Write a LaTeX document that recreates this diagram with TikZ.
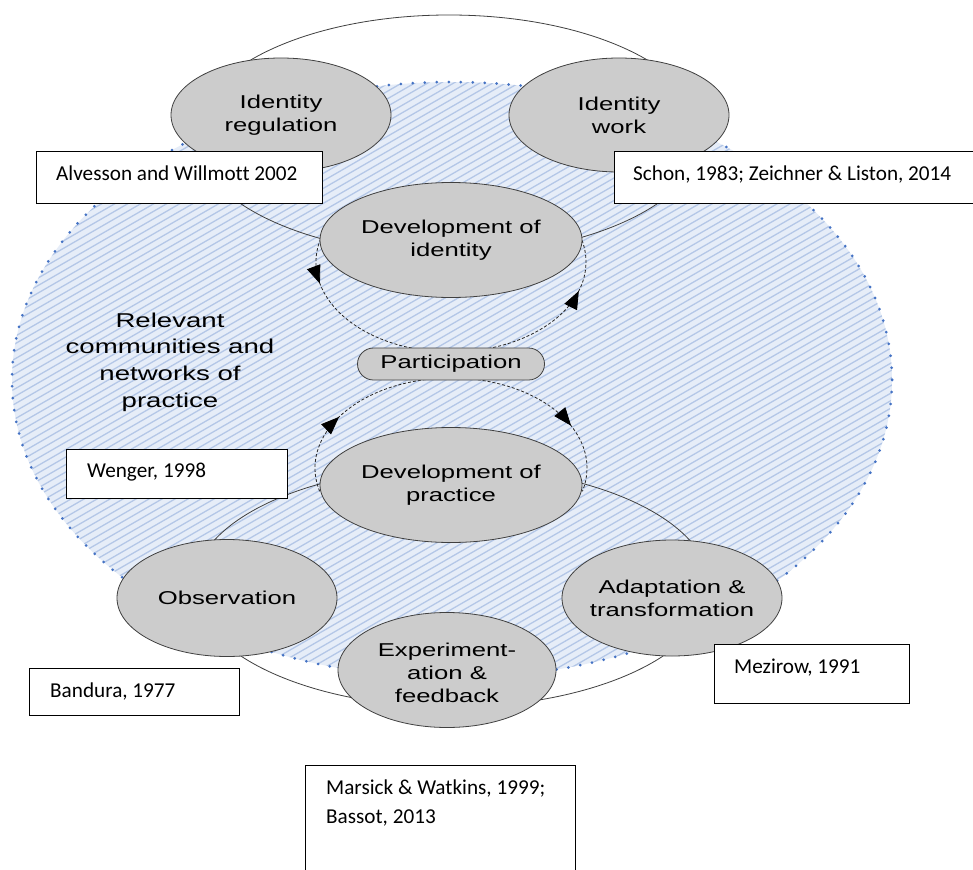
\documentclass[tikz,border=0pt]{standalone}
\usepackage{fontspec}
\setmainfont{Carlito}[Ligatures=CommonOff]
\newfontfamily\smartfont[FakeStretch=1.38]{Liberation Sans}
\usetikzlibrary{decorations.markings,arrows.meta,shapes.geometric}
\definecolor{hatchbg}{RGB}{230,237,248}
\definecolor{hatchln}{RGB}{180,199,231}
\definecolor{dotblue}{RGB}{68,114,196}
\definecolor{blobgray}{RGB}{204,204,204}
\definecolor{edgegray}{RGB}{64,64,64}
\tikzset{
  blob/.style={ellipse, fill=blobgray, draw=edgegray, line width=0.8pt, inner sep=0pt},
  pill/.style={rectangle, rounded corners=16pt, fill=blobgray, draw=edgegray, line width=0.8pt, inner sep=0pt},
  smart/.style={font=\smartfont\fontsize{18.6}{23}\selectfont, align=center, inner sep=0pt},
  bigtext/.style={font=\smartfont\fontsize{20}{26.7}\selectfont, align=center, inner sep=0pt},
  refbox/.style={rectangle, draw=black, fill=white, line width=1.1pt, inner sep=0pt, anchor=north west},
  reftext/.style={font=\fontsize{21.2}{28}\selectfont, anchor=base west, inner sep=0pt},
  outerring/.style={draw=edgegray, line width=0.8pt},
  cyc/.style={draw=black!85, line width=0.8pt, dash pattern=on 3pt off 2pt}
}
\begin{document}
\begin{tikzpicture}[x=1pt,y=-1pt]
\useasboundingbox (0,0) rectangle (973,869);
\fill[white] (0,0) rectangle (973,869);

% hatched community ellipse
\begin{scope}
  \clip (452,380) ellipse [x radius=440, y radius=298];
  \fill[hatchbg] (0,0) rectangle (973,869);
  \foreach \c in {0,7.5,...,1440} {\draw[hatchln, line width=1.3pt] (0,\c) -- (973,\c-561.8);}
\end{scope}
\draw[dotblue, line width=3pt, line cap=round, dash pattern=on 0pt off 12pt] (452,380) ellipse [x radius=440, y radius=298];

% outer rings
\draw[outerring] (449,135) ellipse [x radius=254, y radius=120];
\draw[outerring] (452,587) ellipse [x radius=258, y radius=120];

% dashed cycles
\draw[cyc, decoration={markings,
    mark=at position 46pt with {\arrow[black]{Triangle[length=18pt,width=14pt]}},
    mark=at position -54pt with {\arrow[black]{Triangle[length=18pt,width=14pt]}}},
    postaction={decorate}]
  ([shift={(195:135 and 90)}]451,262) arc[start angle=195, end angle=-15, x radius=135, y radius=90];
\draw[cyc, decoration={markings,
    mark=at position 82pt with {\arrow[black]{Triangle[length=18pt,width=14pt]}},
    mark=at position -70pt with {\arrow[black]{Triangle[length=18pt,width=14pt]}}},
    postaction={decorate}]
  ([shift={(165:136 and 90)}]451,468) arc[start angle=165, end angle=375, x radius=136, y radius=90];

% SmartArt ellipses
\node[blob, minimum width=220pt, minimum height=114pt] (idreg) at (281,115) {};
\node[blob, minimum width=220pt, minimum height=114pt] (idwork) at (619,115) {};
\node[blob, minimum width=262pt, minimum height=115pt] (devid) at (451,240) {};
\node[pill, minimum width=187pt, minimum height=32pt] (part) at (451,364) {};
\node[blob, minimum width=262pt, minimum height=115pt] (devpr) at (451,485) {};
\node[blob, minimum width=220pt, minimum height=117pt] (obs) at (227,598) {};
\node[blob, minimum width=218pt, minimum height=115pt] (expt) at (447,670) {};
\node[blob, minimum width=220pt, minimum height=116pt] (adapt) at (672,598) {};

\node[smart] (idregtxt) at (idreg) {Identity\\regulation};
\node[smart] (idworktxt) at (idwork) {Identity\\work};
\node[smart] (devidtxt) at (devid) {Development of\\identity};
\node[smart] (parttxt) at (part) {Participation};
\node[smart] (devprtxt) at (devpr) {Development of\\practice};
\node[smart] (obstxt) at (obs) {Observation};
\node[smart] (expttxt) at ([yshift=-3pt]expt.center) {Experiment-\\ation \&\\feedback};
\node[smart] (adapttxt) at (adapt) {Adaptation \&\\transformation};

\node[bigtext] (commtxt) at (170,362) {Relevant\\communities and\\networks of\\practice};

% reference boxes
\node[refbox, minimum width=286pt, minimum height=52pt] (alvbox) at (36,151) {};
\node[reftext] (alvtxt) at (56,180) {Alvesson and Willmott 2002};
\node[refbox, minimum width=362pt, minimum height=52pt] (schbox) at (614,151) {};
\node[reftext] (schtxt) at (633,180) {Schon, 1983; Zeichner \& Liston, 2014};
\node[refbox, minimum width=221pt, minimum height=49pt] (wenbox) at (66,449) {};
\node[reftext] (wentxt) at (87,477) {Wenger, 1998};
\node[refbox, minimum width=210pt, minimum height=47pt] (banbox) at (29,668) {};
\node[reftext] (bantxt) at (50,697) {Bandura, 1977};
\node[refbox, minimum width=195pt, minimum height=59pt] (mezbox) at (714,644) {};
\node[reftext] (meztxt) at (734,673) {Mezirow, 1991};
\node[refbox, minimum width=270pt, minimum height=120pt] (marbox) at (305,765) {};
\node[reftext] (martxta) at (326,794) {Marsick \& Watkins, 1999;};
\node[reftext] (martxtb) at (326,823) {Bassot, 2013};
\end{tikzpicture}
\end{document}
